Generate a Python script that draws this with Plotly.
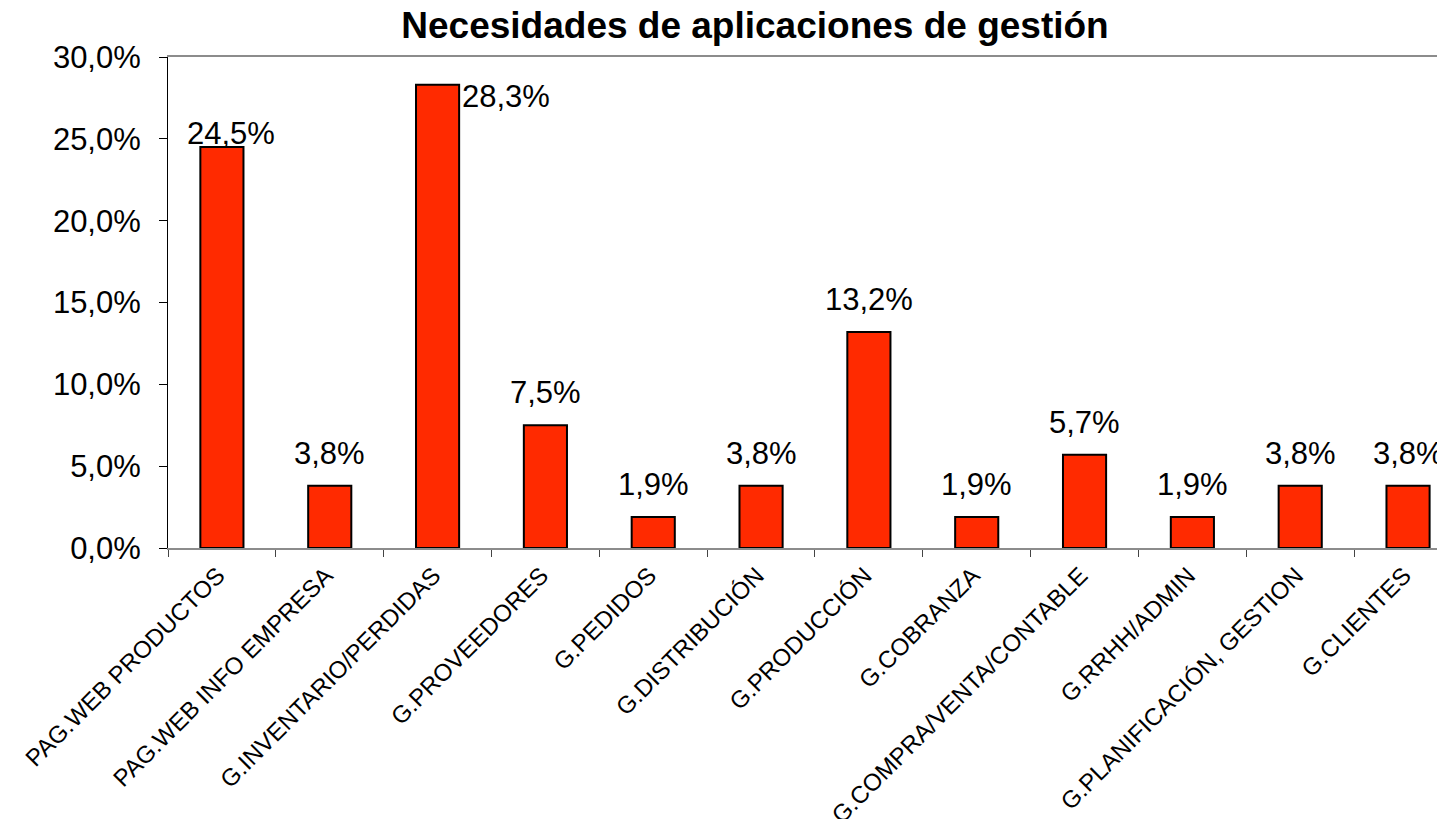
"""Necesidades de aplicaciones de gestión - bar chart."""

import plotly.graph_objects as go

categories = [
    "PAG.WEB PRODUCTOS",
    "PAG.WEB INFO EMPRESA",
    "G.INVENTARIO/PERDIDAS",
    "G.PROVEEDORES",
    "G.PEDIDOS",
    "G.DISTRIBUCIÓN",
    "G.PRODUCCIÓN",
    "G.COBRANZA",
    "G.COMPRA/VENTA/CONTABLE",
    "G.RRHH/ADMIN",
    "G.PLANIFICACIÓN, GESTION",
    "G.CLIENTES",
]
shares = [0.245, 0.038, 0.283, 0.075, 0.019, 0.038, 0.132, 0.019, 0.057, 0.019, 0.038, 0.038]

FONT = "Liberation Sans, Arial, sans-serif"
BAR_RED = "#ff2a00"

fig = go.Figure(
    go.Bar(
        x=categories,
        y=shares,
        width=0.4,
        marker=dict(color=BAR_RED, line=dict(color="black", width=2)),
        hoverinfo="x+y",
    )
)

# label placement: most labels sit above the bar, two are placed like the original
label_overrides = {
    0: dict(xanchor="center", yanchor="bottom", xshift=9, yshift=-6),
    2: dict(xanchor="left", yanchor="top", xshift=22, yshift=8),
}
for i, (cat, v) in enumerate(zip(categories, shares)):
    pos = dict(xanchor="center", yanchor="bottom", xshift=0, yshift=13)
    pos.update(label_overrides.get(i, {}))
    fig.add_annotation(
        x=cat,
        y=v,
        text=f"{v * 100:.1f}%".replace(".", ","),
        showarrow=False,
        font=dict(family=FONT, size=31, color="black"),
        **pos,
    )

# the page body adds an 8px offset, so margins are 8px smaller than the picture
fig.update_layout(
    width=1445,
    height=819,
    autosize=False,
    paper_bgcolor="white",
    plot_bgcolor="white",
    separators=",.",
    font=dict(family=FONT, color="black"),
    margin=dict(l=160, r=0, t=49, b=279),
    showlegend=False,
    title=dict(
        text="<b>Necesidades de aplicaciones de gestión</b>",
        font=dict(family=FONT, size=37, color="black"),
        x=747 / 1445,
        xanchor="center",
        xref="container",
        y=1 - 30 / 819,
        yanchor="bottom",
        yref="container",
        pad=dict(t=0, b=0),
    ),
    xaxis=dict(
        type="category",
        range=[-0.5, 11.417],
        automargin=False,
        tickson="boundaries",
        ticks="outside",
        ticklen=7,
        tickwidth=1,
        tickcolor="#444444",
        showline=True,
        linecolor="#8c8c8c",
        linewidth=2,
        mirror=True,
        showgrid=False,
        tickangle=-45,
        tickfont=dict(family=FONT, size=24, color="black"),
        ticklabelstandoff=2,
        ticklabelshift=-4,
    ),
    yaxis=dict(
        range=[0, 0.30],
        dtick=0.05,
        tickformat=".1%",
        automargin=False,
        ticks="outside",
        ticklen=8,
        tickwidth=1,
        tickcolor="black",
        showline=True,
        linecolor="black",
        linewidth=1,
        showgrid=False,
        zeroline=False,
        tickfont=dict(family=FONT, size=31, color="black"),
        ticklabelstandoff=12,
    ),
)

fig.write_html("out.html")
